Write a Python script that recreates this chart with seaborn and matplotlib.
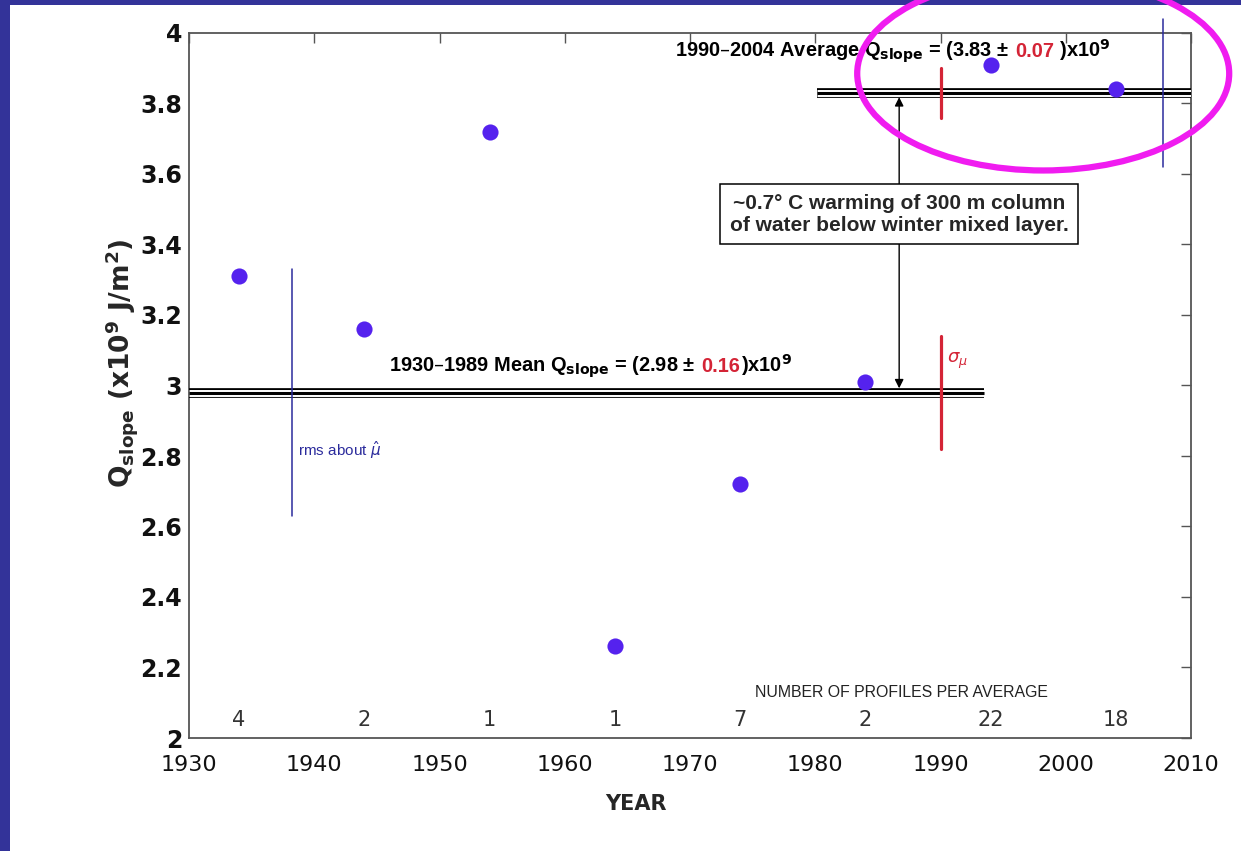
import matplotlib
matplotlib.use("Agg")
import matplotlib.pyplot as plt
import numpy as np
import pandas as pd
import seaborn as sns
from matplotlib.patches import Ellipse, Rectangle
from matplotlib.offsetbox import TextArea, HPacker, AnnotationBbox

# ---- data -------------------------------------------------------------
years = [1934, 1944, 1954, 1964, 1974, 1984, 1994, 2004]
q_slope = [3.31, 3.16, 3.72, 2.26, 2.72, 3.01, 3.91, 3.84]
profile_counts = [4, 2, 1, 1, 7, 2, 22, 18]

early_mean, early_sigma, early_rms = 2.98, 0.16, 0.35
late_mean, late_sigma, late_rms = 3.83, 0.07, 0.21

x_ticks = [1930, 1940, 1950, 1960, 1970, 1980, 1990, 2000, 2010]
y_ticks = [2.0, 2.2, 2.4, 2.6, 2.8, 3.0, 3.2, 3.4, 3.6, 3.8, 4.0]

df = pd.DataFrame({"year": years, "q": q_slope})

# ---- style ------------------------------------------------------------
sns.set_theme(style="white")
plt.rcParams["font.family"] = ["DejaVu Sans"]
plt.rcParams["mathtext.fontset"] = "dejavusans"

NAVY = "#333399"
POINT = "#5522ee"
RED = "#d42436"
BLUE = "#2b2b9c"
AXIS = "#555555"
ANNOT_FONT = ["Liberation Sans", "DejaVu Sans"]

fig = plt.figure(figsize=(12.41, 8.51), dpi=100, facecolor=NAVY)
fig.add_artist(Rectangle((10 / 1241, 0), 1, 1 - 5 / 851,
                         transform=fig.transFigure, facecolor="white",
                         edgecolor="none", zorder=-5))

ax = fig.add_axes([189 / 1241, 1 - 738 / 851, 1002 / 1241, 705 / 851])
ax.set_facecolor("white")
ax.set_xlim(1930, 2010)
ax.set_ylim(2, 4)

# ---- mean lines (triple rule) ----------------------------------------
def triple_rule(x0, x1, y):
    ax.plot([x0, x1], [y, y], color="black", lw=7.0, solid_capstyle="butt", zorder=3)
    ax.plot([x0, x1], [y, y], color="white", lw=5.0, solid_capstyle="butt", zorder=3)
    ax.plot([x0, x1], [y, y], color="black", lw=2.2, solid_capstyle="butt", zorder=3)

triple_rule(1930, 1993.5, early_mean)
triple_rule(1980.1, 2010, late_mean)

# rms bars about the means
ax.plot([1938.2, 1938.2], [early_mean - early_rms, early_mean + early_rms],
        color=BLUE, lw=1.1, zorder=4)
ax.plot([2007.8, 2007.8], [late_mean - late_rms, late_mean + late_rms],
        color=BLUE, lw=1.1, zorder=4, clip_on=False)

# standard error of the means
ax.plot([1990, 1990], [early_mean - early_sigma, early_mean + early_sigma],
        color=RED, lw=2.3, zorder=4)
ax.plot([1990, 1990], [late_mean - late_sigma, late_mean + late_sigma],
        color=RED, lw=2.3, zorder=4)

# ---- points -----------------------------------------------------------
sns.scatterplot(data=df, x="year", y="q", ax=ax, s=135, color=POINT,
                linewidth=0, zorder=6, legend=False)

# ---- warming arrow and note ------------------------------------------
ax.annotate("", xy=(1986.7, late_mean - 0.012), xytext=(1986.7, early_mean + 0.012),
            arrowprops=dict(arrowstyle="<|-|>", color="black", lw=1.0,
                            mutation_scale=13, shrinkA=0, shrinkB=0), zorder=2)
ax.text(1986.7, 3.486, "~0.7\u00b0 C warming of 300 m column\nof water below winter mixed layer.",
        ha="center", va="center", fontsize=15, fontweight="bold", family=ANNOT_FONT,
        linespacing=1.2, zorder=5,
        bbox=dict(boxstyle="square,pad=0.45", fc="white", ec="black", lw=1.1))

# ---- labelled means ---------------------------------------------------
def mean_label(x, y, value, err, word, closing):
    props = dict(fontsize=14.4, fontweight="bold", family=ANNOT_FONT, color="black")
    parts = [
        TextArea(f"{word} Q$_{{\\mathbf{{slope}}}}$ = ({value:.2f} \u00b1  ", textprops=props),
        TextArea(f"{err:.2f}", textprops=dict(props, color=RED)),
        TextArea(closing + "x10$^{\\mathbf{9}}$", textprops=props),
    ]
    box = HPacker(children=parts, align="baseline", pad=0, sep=0)
    ab = AnnotationBbox(box, (x, y), xycoords="data", box_alignment=(0, 0.5),
                        frameon=False, pad=0, zorder=2)
    ax.add_artist(ab)

mean_label(1946.0, 3.055, early_mean, early_sigma, "1930\u20131989 Mean", ")")
mean_label(1968.8, 3.948, late_mean, late_sigma, "1990\u20132004 Average", " )")

ax.text(1938.7, 2.818, r"rms about $\hat{\mu}$", color=BLUE, fontsize=11,
        family=ANNOT_FONT, ha="left", va="center")
ax.text(1990.5, 3.07, r"$\sigma_{\mu}$", color=RED, fontsize=13, ha="left", va="center")

# ---- profile counts ---------------------------------------------------
for yr, n in zip(years, profile_counts):
    ax.text(yr, 2.052, str(n), ha="center", va="center", fontsize=15,
            color="#333333")
ax.text(1986.9, 2.128, "NUMBER OF PROFILES PER AVERAGE", ha="center", va="center",
        fontsize=11.4, color="#222222", family=ANNOT_FONT)

# ---- highlight ring ---------------------------------------------------
ax.add_patch(Ellipse((1998.2, 3.885), 29.7, 0.55, fill=False, edgecolor="#f01cf0",
                     lw=4.5, clip_on=False, zorder=10))

# ---- axes -------------------------------------------------------------
ax.set_xticks(x_ticks)
ax.set_yticks(y_ticks)
ax.set_yticklabels([f"{v:g}" for v in y_ticks], fontweight="bold")
ax.tick_params(axis="both", direction="in", length=7, width=1.0, color=AXIS,
               top=True, right=True)
ax.tick_params(axis="x", labelsize=16, pad=12, labelcolor="#111111")
ax.tick_params(axis="y", labelsize=17, pad=5, labelcolor="#111111")
for sp in ax.spines.values():
    sp.set_color(AXIS)
    sp.set_linewidth(1.3)

ax.set_xlabel("YEAR", fontsize=15, fontweight="bold")
ax.xaxis.set_label_coords(0.446, -0.079)
ax.set_ylabel(r"Q$_{\mathbf{slope}}$ (x10$^{\mathbf{9}}$ J/m$^{\mathbf{2}}$)",
              fontsize=19, fontweight="bold")
ax.yaxis.set_label_coords(-0.049, 0.532)

fig.savefig("out.png", dpi=100, facecolor=fig.get_facecolor())
